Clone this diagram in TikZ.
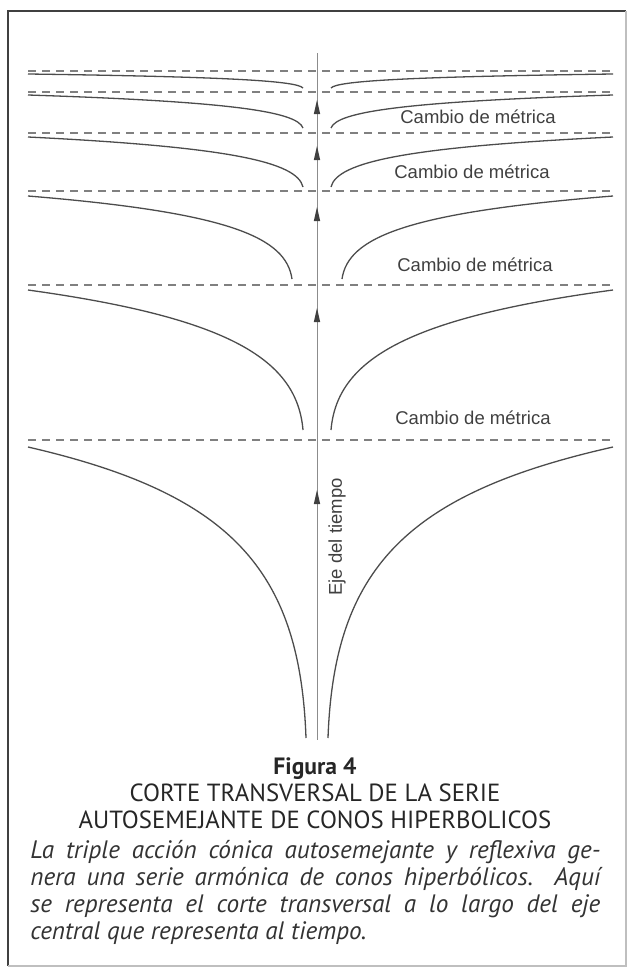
\documentclass[tikz,border=0pt]{standalone}
\usepackage{fontspec}
\setmainfont{PT Sans}
\newfontfamily\helv{Liberation Sans}
\usetikzlibrary{positioning}

\begin{document}
\begin{tikzpicture}[x=0.5pt, y=-0.5pt,
    % Curves of the cones
    cone/.style={color=black!70, line width=0.65pt},
    % Dashed lines between the cones
    guide/.style={color=black!50, dash pattern=on 4pt off 3pt, line width=0.55pt},
    % Thin time axis
    axisline/.style={color=black!45, line width=0.3pt},
    tipfill/.style={fill=black!75, draw=none},
    labelcm/.style={font=\helv\fontsize{9.25}{11}\selectfont, text=black!75, inner sep=0pt}
  ]
  \useasboundingbox (0,0) rectangle (628,969);

  % --- Dimensions ---
  \def\Xaxis{317}   % x of the time axis
  \def\Xleft{28}    % left end of the curves
  \def\Xright{613}  % right end of the curves

  % --- Frame ---
  \draw[color=black!75, line width=1.1pt] (8,966) -- (8,11) -- (626,11);
  \draw[color=black!25, line width=0.6pt] (626,11) -- (626,966) -- (8,966);

  % --- Time axis ---
  \coordinate (ejetop) at (\Xaxis,53);
  \coordinate (ejebot) at (\Xaxis,740);
  \draw[axisline] (ejetop) -- (ejebot);

  % --- Dashed lines and hyperbolic cones ---
  % y of dashed line / top / bottom of the curve / half gap / bend factors
  \foreach \yd/\yt/\yb/\w/\ka/\kb in {71/74/88/14/0.2/0.5, 92/95/128/14/0.2/0.5,
                                      133/137/187/14/0.2/0.5, 191/196/279/25/0.2/0.5,
                                      285/290/430/14/0.2/0.5, 440/447/738/11/0.16/0.42} {
    \draw[guide] (\Xleft,\yd) -- (\Xright+2,\yd);
    \draw[cone] (\Xleft,\yt) .. controls ({\Xaxis-0.30*(\Xaxis-\Xleft)},{\yt+\ka*(\yb-\yt)})
      and ({\Xaxis-\w-6},{\yt+\kb*(\yb-\yt)}) .. (\Xaxis-\w,\yb);
    \draw[cone] (\Xright,\yt) .. controls ({\Xaxis+0.30*(\Xright-\Xaxis)},{\yt+\ka*(\yb-\yt)})
      and ({\Xaxis+\w+6},{\yt+\kb*(\yb-\yt)}) .. (\Xaxis+\w,\yb);
  }

  % --- Arrowheads on the axis ---
  \foreach \tp in {100,146,207,308,490} {
    \fill[tipfill] (\Xaxis,\tp) -- (\Xaxis+3.2,\tp+14) -- (\Xaxis-3.2,\tp+14) -- cycle;
  }

  % --- Labels ---
  \node[labelcm] (cambio1) at (478,117) {Cambio de métrica};
  \node[labelcm] (cambio2) at (472,172) {Cambio de métrica};
  \node[labelcm] (cambio3) at (475,265) {Cambio de métrica};
  \node[labelcm] (cambio4) at (473,418) {Cambio de métrica};
  \node[labelcm, rotate=90] (eje) at (337,537) {Eje del tiempo};

  % --- Caption ---
  \node[font=\fontsize{12.4}{13.5}\selectfont, align=center, text=black!85, inner sep=0pt]
    (titulo) at (315,793) {{\fontsize{11.8}{13.5}\selectfont\bfseries Figura 4}\\CORTE TRANSVERSAL DE LA SERIE\\AUTOSEMEJANTE DE CONOS HIPERBOLICOS};
  \node[font=\itshape\fontsize{12.6}{13.5}\selectfont, text width=285pt, align=justify,
    inner sep=0pt, anchor=north west, text=black!80] (leyenda) at (30,840)
    {La triple acción cónica autosemejante y reflexiva ge-\linebreak nera una serie armónica de conos hiperbólicos. Aquí\linebreak se representa el corte transversal a lo largo del eje\linebreak central que representa al tiempo.};
\end{tikzpicture}
\end{document}
